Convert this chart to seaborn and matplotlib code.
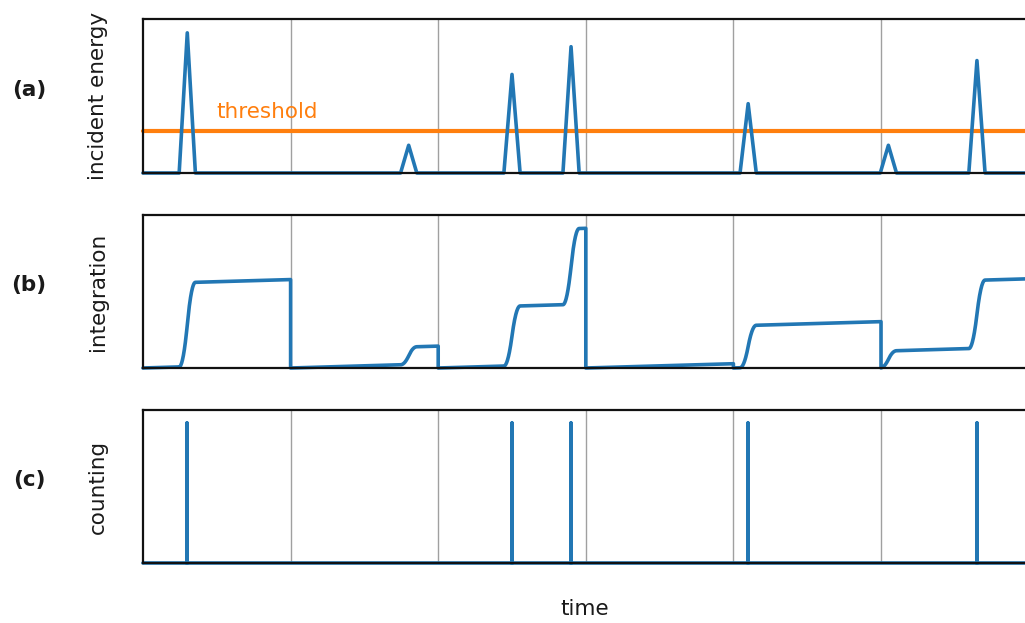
import numpy as np
import pandas as pd
import matplotlib
matplotlib.use("Agg")
import matplotlib.pyplot as plt
import seaborn as sns

# Detected photon pulses: arrival time and incident energy
pulse_times = [0.30, 1.80, 2.50, 2.90, 4.10, 5.05, 5.65]
pulse_heights = [0.91, 0.18, 0.64, 0.82, 0.45, 0.18, 0.73]
# Charge added to the integrator by each pulse
pulse_steps = [0.55, 0.115, 0.39, 0.495, 0.275, 0.11, 0.445]
threshold = 0.27
# Readout frames (integrator is reset at each boundary)
frame_edges = [0, 1, 2, 3, 4, 5, 6]
dark_drift = 0.028          # slow leakage accumulation per unit time
count_height = 1.0

panel_labels = ["(a)", "(b)", "(c)"]
y_labels = ["incident energy", "integration", "counting"]
x_label = "time"
threshold_label = "threshold"

BLUE = "#2277b4"
ORANGE = "#ff7f0e"
TEXT = "#1a1a1a"
HALF_W = 0.055

sns.set_theme(style="white")
plt.rcParams["font.family"] = ["DejaVu Sans"]

fig = plt.figure(figsize=(10.25, 6.23), dpi=100)
left, width = 143 / 1025, 885.6 / 1025
axes = [
    fig.add_axes([left, 1 - 173 / 623, width, 154 / 623]),
    fig.add_axes([left, 1 - 368 / 623, width, 153 / 623]),
    fig.add_axes([left, 1 - 563 / 623, width, 153 / 623]),
]

# (a) incident energy: triangular pulses
ex, ey = [frame_edges[0]], [0.0]
for t, h in zip(pulse_times, pulse_heights):
    ex += [t - HALF_W, t, t + HALF_W]
    ey += [0.0, h, 0.0]
ex.append(frame_edges[-1])
ey.append(0.0)
energy = pd.DataFrame({"time": ex, "value": ey})


def rise(t, t0):
    u = np.clip((t - t0 + HALF_W) / (2 * HALF_W), 0, 1)
    return np.where(u < 0.5, 2 * u ** 2, 1 - 2 * (1 - u) ** 2)


# (b) integrated charge, reset at every frame boundary
ix, iy = [], []
for a, b in zip(frame_edges[:-1], frame_edges[1:]):
    tt = np.linspace(a, b, 600)
    vv = dark_drift * (tt - a)
    for t0, s in zip(pulse_times, pulse_steps):
        if a <= t0 < b:
            vv = vv + s * rise(tt, t0)
    ix += list(tt)
    iy += list(vv)
integ = pd.DataFrame({"time": ix, "value": iy})

# (c) counter: one event for each pulse above threshold
cx, cy = [frame_edges[0]], [0.0]
for t, h in zip(pulse_times, pulse_heights):
    if h > threshold:
        cx += [t, t, t]
        cy += [0.0, count_height, 0.0]
cx.append(frame_edges[-1])
cy.append(0.0)
counts = pd.DataFrame({"time": cx, "value": cy})

thr = pd.DataFrame({"time": [frame_edges[0], frame_edges[-1]],
                    "value": [threshold, threshold]})

sns.lineplot(data=thr, x="time", y="value", ax=axes[0], color=ORANGE,
             linewidth=3.0, sort=False, estimator=None)
sns.lineplot(data=energy, x="time", y="value", ax=axes[0], color=BLUE,
             linewidth=2.6, sort=False, estimator=None)
sns.lineplot(data=integ, x="time", y="value", ax=axes[1], color=BLUE,
             linewidth=2.6, sort=False, estimator=None)
sns.lineplot(data=counts, x="time", y="value", ax=axes[2], color=BLUE,
             linewidth=2.6, sort=False, estimator=None)

axes[0].text(0.5, threshold + 0.06, threshold_label, color=ORANGE,
             fontsize=15.5, ha="left", va="bottom")

ylims = [(0, 1.0), (0, 1.0), (0, count_height / 0.915)]
label_rows = [90, 285, 480]

for i, ax in enumerate(axes):
    ax.set_xlim(frame_edges[0], frame_edges[-1])
    ax.set_ylim(*ylims[i])
    ax.set_xticks(frame_edges[1:-1])
    ax.set_yticks([])
    ax.tick_params(axis="x", length=0, labelbottom=False)
    ax.grid(axis="x", color="#a0a0a0", linewidth=1.0)
    ax.grid(axis="y", visible=False)
    ax.set_xlabel("")
    ax.set_ylabel(y_labels[i], fontsize=15.5, color=TEXT)
    ax.yaxis.set_label_coords(-0.04, 0.5)
    for side in ["left", "top", "bottom", "right"]:
        ax.spines[side].set_color("#111111")
        ax.spines[side].set_linewidth(1.6)
    for line in ax.lines:
        line.set_clip_on(False)
    fig.text(29 / 1025, 1 - label_rows[i] / 623, panel_labels[i],
             fontsize=15.5, fontweight="bold", ha="center", va="center",
             color=TEXT)

fig.text(585 / 1025, 1 - 609 / 623, x_label, fontsize=15.5, color=TEXT,
         ha="center", va="center")

fig.savefig("out.png", dpi=100)
